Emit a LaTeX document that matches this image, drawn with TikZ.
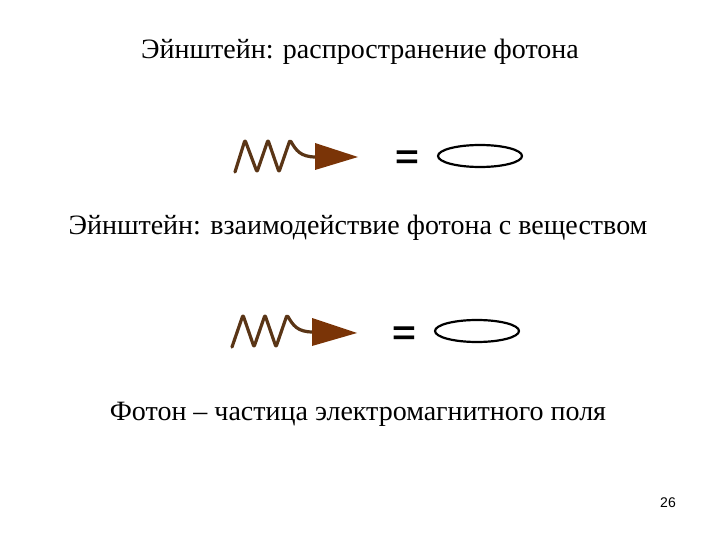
\documentclass[tikz,border=0pt]{standalone}
\usepackage{fontspec}
\usetikzlibrary{shapes.geometric}
\setmainfont{Liberation Serif}
\newfontfamily\arialf{Liberation Sans}
\definecolor{wavebrown}{HTML}{5A3516}
\definecolor{tipbrown}{HTML}{7A3407}
\begin{document}
\begin{tikzpicture}[x=1pt,y=-1pt,
  title/.style={font=\fontsize{28}{32}\selectfont, inner sep=0pt, anchor=base},
  eqsign/.style={font=\arialf\bfseries\fontsize{34}{34}\selectfont, inner sep=0pt, anchor=base, xscale=1.2},
  oval/.style={draw=black, line width=2.2pt, ellipse, minimum width=84pt, minimum height=22pt, inner sep=0pt},
  wave/.style={draw=wavebrown, line width=3.2pt, line join=round, line cap=round, rounded corners=2pt},
  tip/.style={fill=tipbrown}]
\useasboundingbox (0,0) rectangle (720,540);
\node[title] (t1) at (360,59) {Эйнштейн: распространение фотона};
\node[title] (t2) at (358,235) {Эйнштейн: взаимодействие фотона с веществом};
\node[title] (t3) at (358,420) {Фотон – частица электромагнитного поля};
\node[font=\arialf\fontsize{14}{16}\selectfont, inner sep=0pt] (pg) at (668,503) {26};
% row 1
\draw[wave] (235,172) -- (245,140) -- (257,172) -- (268,140) -- (279,172) -- (290,140) .. controls (296,150) and (300,157) .. (316,157);
\fill[tip] (315,143) -- (358,157) -- (315,170) -- cycle;
\node[eqsign] (eq1) at (407,169) {=};
\node[oval] (o1) at (480,156) {};
% row 2
\draw[wave] (232,347) -- (243,315) -- (254,347) -- (265,315) -- (276,347) -- (287,315) .. controls (293,325) and (297,332) .. (313,332);
\fill[tip] (312,318) -- (357,333) -- (312,346) -- cycle;
\node[eqsign] (eq2) at (404,344) {=};
\node[oval] (o2) at (477,331) {};
\end{tikzpicture}
\end{document}
